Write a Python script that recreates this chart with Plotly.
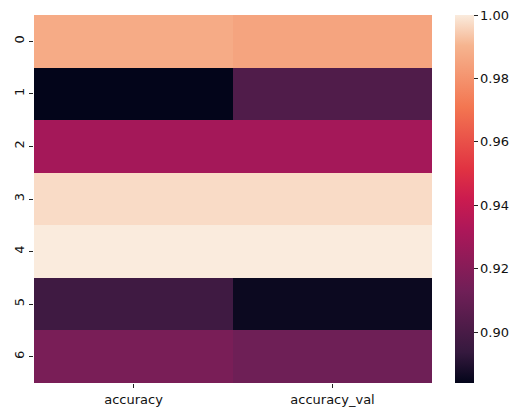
import plotly.graph_objects as go

columns = ["accuracy", "accuracy_val"]
rows = ["0", "1", "2", "3", "4", "5", "6"]
accuracy = [0.9876, 0.8840, 0.9295, 0.9972, 1.0000, 0.8970, 0.9160]
accuracy_val = [0.9854, 0.9026, 0.9295, 0.9972, 1.0000, 0.8857, 0.9124]

z = [[a, v] for a, v in zip(accuracy, accuracy_val)]

rocket = [
    [0.0, "#03051a"],
    [0.083, "#35193e"],
    [0.25, "#701f57"],
    [0.417, "#ad1759"],
    [0.5, "#cb1b4f"],
    [0.583, "#e13342"],
    [0.75, "#f37651"],
    [0.917, "#f6b48f"],
    [1.0, "#faebdd"],
]

fig = go.Figure(go.Heatmap(
    z=z, x=columns, y=rows, colorscale=rocket,
    xgap=0, ygap=0,
    colorbar=dict(
        thickness=19, len=1, lenmode="fraction", x=1.058, xanchor="left",
        y=0.5, yanchor="middle", outlinewidth=0, xpad=0, ypad=0,
        tickvals=[0.90, 0.92, 0.94, 0.96, 0.98, 1.00], tickformat=".2f",
        ticks="outside", ticklen=4, tickcolor="#222", tickwidth=1,
        tickfont=dict(family="DejaVu Sans", size=13, color="#111"),
    ),
))

fig.update_layout(
    width=524, height=418,
    margin=dict(l=34, r=92, t=15, b=35, autoexpand=False),
    plot_bgcolor="white", paper_bgcolor="white",
    font=dict(family="DejaVu Sans", size=13, color="#111"),
    xaxis=dict(showgrid=False, zeroline=False, ticks="outside", ticklen=4,
               tickcolor="#222", showline=False, automargin=False),
    yaxis=dict(showgrid=False, zeroline=False, ticks="outside", ticklen=4,
               tickcolor="#222", autorange="reversed", tickangle=-90,
               showline=False, automargin=False),
)

fig.write_html("out.html", config={"displayModeBar": False},
               post_script="document.body.style.margin='0';document.body.style.padding='0';")
